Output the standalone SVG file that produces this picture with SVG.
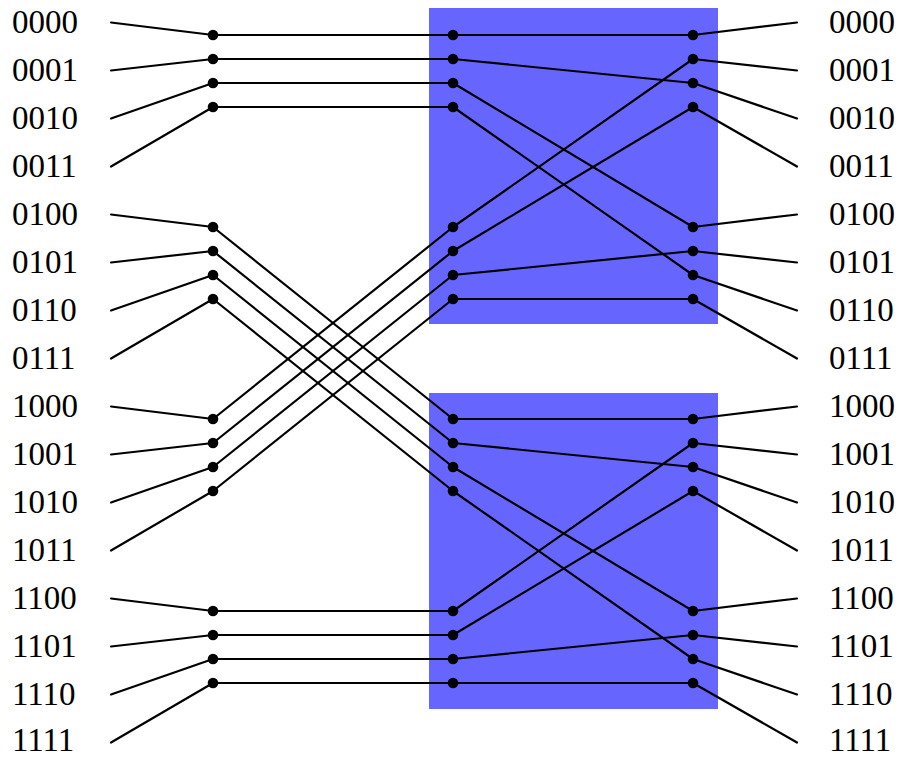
<svg xmlns="http://www.w3.org/2000/svg" width="899" height="757" viewBox="0 0 899 757">
<style>
.box{fill:#6666FF}
.w line{stroke:#000;stroke-width:2.2;stroke-linecap:round}
.d circle{fill:#000}
</style>
<g id="box-top"><rect class="box" x="429" y="8" width="289" height="316"/></g>
<g id="box-bottom"><rect class="box" x="429" y="393" width="289" height="316"/></g>
<g id="connectors" class="w">
<line x1="111" y1="22.5" x2="213" y2="35"/>
<line x1="111" y1="70.5" x2="213" y2="59"/>
<line x1="111" y1="118.5" x2="213" y2="83"/>
<line x1="111" y1="166.5" x2="213" y2="107"/>
<line x1="111" y1="214.5" x2="213" y2="227"/>
<line x1="111" y1="262.5" x2="213" y2="251"/>
<line x1="111" y1="310.5" x2="213" y2="275"/>
<line x1="111" y1="358.5" x2="213" y2="299"/>
<line x1="111" y1="406.5" x2="213" y2="419"/>
<line x1="111" y1="454.5" x2="213" y2="443"/>
<line x1="111" y1="502.5" x2="213" y2="467"/>
<line x1="111" y1="550.5" x2="213" y2="491"/>
<line x1="111" y1="598.5" x2="213" y2="611"/>
<line x1="111" y1="646.5" x2="213" y2="635"/>
<line x1="111" y1="694.5" x2="213" y2="659"/>
<line x1="111" y1="742.5" x2="213" y2="683"/>
<line x1="213" y1="35" x2="453" y2="35"/>
<line x1="213" y1="59" x2="453" y2="59"/>
<line x1="213" y1="83" x2="453" y2="83"/>
<line x1="213" y1="107" x2="453" y2="107"/>
<line x1="213" y1="227" x2="453" y2="419"/>
<line x1="213" y1="251" x2="453" y2="443"/>
<line x1="213" y1="275" x2="453" y2="467"/>
<line x1="213" y1="299" x2="453" y2="491"/>
<line x1="213" y1="419" x2="453" y2="227"/>
<line x1="213" y1="443" x2="453" y2="251"/>
<line x1="213" y1="467" x2="453" y2="275"/>
<line x1="213" y1="491" x2="453" y2="299"/>
<line x1="213" y1="611" x2="453" y2="611"/>
<line x1="213" y1="635" x2="453" y2="635"/>
<line x1="213" y1="659" x2="453" y2="659"/>
<line x1="213" y1="683" x2="453" y2="683"/>
<line x1="453" y1="35" x2="693" y2="35"/>
<line x1="453" y1="59" x2="693" y2="83"/>
<line x1="453" y1="83" x2="693" y2="227"/>
<line x1="453" y1="107" x2="693" y2="275"/>
<line x1="453" y1="227" x2="693" y2="59"/>
<line x1="453" y1="251" x2="693" y2="107"/>
<line x1="453" y1="275" x2="693" y2="251"/>
<line x1="453" y1="299" x2="693" y2="299"/>
<line x1="453" y1="419" x2="693" y2="419"/>
<line x1="453" y1="443" x2="693" y2="467"/>
<line x1="453" y1="467" x2="693" y2="611"/>
<line x1="453" y1="491" x2="693" y2="659"/>
<line x1="453" y1="611" x2="693" y2="443"/>
<line x1="453" y1="635" x2="693" y2="491"/>
<line x1="453" y1="659" x2="693" y2="635"/>
<line x1="453" y1="683" x2="693" y2="683"/>
<line x1="693" y1="35" x2="797" y2="22.5"/>
<line x1="693" y1="59" x2="797" y2="70.5"/>
<line x1="693" y1="83" x2="797" y2="118.5"/>
<line x1="693" y1="107" x2="797" y2="166.5"/>
<line x1="693" y1="227" x2="797" y2="214.5"/>
<line x1="693" y1="251" x2="797" y2="262.5"/>
<line x1="693" y1="275" x2="797" y2="310.5"/>
<line x1="693" y1="299" x2="797" y2="358.5"/>
<line x1="693" y1="419" x2="797" y2="406.5"/>
<line x1="693" y1="443" x2="797" y2="454.5"/>
<line x1="693" y1="467" x2="797" y2="502.5"/>
<line x1="693" y1="491" x2="797" y2="550.5"/>
<line x1="693" y1="611" x2="797" y2="598.5"/>
<line x1="693" y1="635" x2="797" y2="646.5"/>
<line x1="693" y1="659" x2="797" y2="694.5"/>
<line x1="693" y1="683" x2="797" y2="742.5"/>
</g>
<g id="nodes-left" class="d">
<circle cx="213" cy="35" r="5.3"/><circle cx="213" cy="59" r="5.3"/><circle cx="213" cy="83" r="5.3"/><circle cx="213" cy="107" r="5.3"/>
<circle cx="213" cy="227" r="5.3"/><circle cx="213" cy="251" r="5.3"/><circle cx="213" cy="275" r="5.3"/><circle cx="213" cy="299" r="5.3"/>
<circle cx="213" cy="419" r="5.3"/><circle cx="213" cy="443" r="5.3"/><circle cx="213" cy="467" r="5.3"/><circle cx="213" cy="491" r="5.3"/>
<circle cx="213" cy="611" r="5.3"/><circle cx="213" cy="635" r="5.3"/><circle cx="213" cy="659" r="5.3"/><circle cx="213" cy="683" r="5.3"/>
</g>
<g id="nodes-middle" class="d">
<circle cx="453" cy="35" r="5.3"/><circle cx="453" cy="59" r="5.3"/><circle cx="453" cy="83" r="5.3"/><circle cx="453" cy="107" r="5.3"/>
<circle cx="453" cy="227" r="5.3"/><circle cx="453" cy="251" r="5.3"/><circle cx="453" cy="275" r="5.3"/><circle cx="453" cy="299" r="5.3"/>
<circle cx="453" cy="419" r="5.3"/><circle cx="453" cy="443" r="5.3"/><circle cx="453" cy="467" r="5.3"/><circle cx="453" cy="491" r="5.3"/>
<circle cx="453" cy="611" r="5.3"/><circle cx="453" cy="635" r="5.3"/><circle cx="453" cy="659" r="5.3"/><circle cx="453" cy="683" r="5.3"/>
</g>
<g id="nodes-right" class="d">
<circle cx="693" cy="35" r="5.3"/><circle cx="693" cy="59" r="5.3"/><circle cx="693" cy="83" r="5.3"/><circle cx="693" cy="107" r="5.3"/>
<circle cx="693" cy="227" r="5.3"/><circle cx="693" cy="251" r="5.3"/><circle cx="693" cy="275" r="5.3"/><circle cx="693" cy="299" r="5.3"/>
<circle cx="693" cy="419" r="5.3"/><circle cx="693" cy="443" r="5.3"/><circle cx="693" cy="467" r="5.3"/><circle cx="693" cy="491" r="5.3"/>
<circle cx="693" cy="611" r="5.3"/><circle cx="693" cy="635" r="5.3"/><circle cx="693" cy="659" r="5.3"/><circle cx="693" cy="683" r="5.3"/>
</g>
<g id="labels-left" font-family="Liberation Serif, Times New Roman, serif" font-size="33" fill="#000">
<text x="12" y="33">0000</text><text x="12" y="81">0001</text><text x="12" y="129">0010</text><text x="12" y="177">0011</text>
<text x="12" y="225">0100</text><text x="12" y="273">0101</text><text x="12" y="321">0110</text><text x="12" y="369">0111</text>
<text x="12" y="417">1000</text><text x="12" y="465">1001</text><text x="12" y="513">1010</text><text x="12" y="561">1011</text>
<text x="12" y="609">1100</text><text x="12" y="657">1101</text><text x="12" y="705">1110</text><text x="12" y="751">1111</text>
</g>
<g id="labels-right" font-family="Liberation Serif, Times New Roman, serif" font-size="33" fill="#000">
<text x="829" y="33">0000</text><text x="829" y="81">0001</text><text x="829" y="129">0010</text><text x="829" y="177">0011</text>
<text x="829" y="225">0100</text><text x="829" y="273">0101</text><text x="829" y="321">0110</text><text x="829" y="369">0111</text>
<text x="829" y="417">1000</text><text x="829" y="465">1001</text><text x="829" y="513">1010</text><text x="829" y="561">1011</text>
<text x="829" y="609">1100</text><text x="829" y="657">1101</text><text x="829" y="705">1110</text><text x="829" y="751">1111</text>
</g>
</svg>
